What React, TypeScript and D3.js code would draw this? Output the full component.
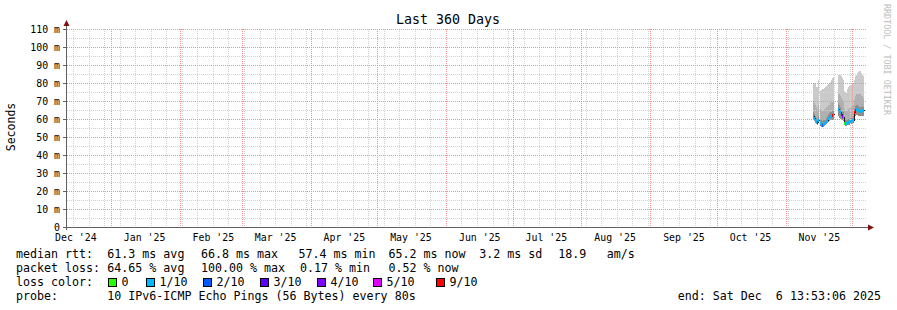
import React from "react";
import * as d3 from "d3";

// ---------- data ----------
const endTime = Date.UTC(2025, 11, 6, 13, 53, 6);
const spanDays = 360;
const titleText = "Last 360 Days";
const yAxisLabel = "Seconds";
const yTickValues = [0, 10, 20, 30, 40, 50, 60, 70, 80, 90, 100, 110];
const yTickLabels = ["0", "10 m", "20 m", "30 m", "40 m", "50 m", "60 m", "70 m", "80 m", "90 m", "100 m", "110 m"];
const xTickMonths = ["2024-12-01", "2025-01-01", "2025-02-01", "2025-03-01", "2025-04-01", "2025-05-01", "2025-06-01", "2025-07-01", "2025-08-01", "2025-09-01", "2025-10-01", "2025-11-01"];
const xTickLabels = ["Dec '24", "Jan '25", "Feb '25", "Mar '25", "Apr '25", "May '25", "Jun '25", "Jul '25", "Aug '25", "Sep '25", "Oct '25", "Nov '25"];

// samples (RRD consolidated step ~10.8h), starting at firstSample
const firstSample = Date.UTC(2025, 10, 13, 1, 0, 0);
const stepHours = 10.8;
const smokeMax =   [80.5, 80.5, 79.5, 78, 78, 82, null, 76, 76.5, 77, 77, 77.5, 78, 78.5, 79, 79.5, 80, 81, 82, 83, 83.5, null, null, null, null, 85, 85.5, 85, 84, 83, 82, 76, 75, 75, 77, 78, 78.5, 79, 79, 80, 80, 82, 84, 85, 86, 86.5, 87, 87, 86, 85, 84];
const smokeUpper = [70, 69, 68, 67, 66, 68, null, 66, 65, 65, 65.5, 66, 66, 67, 67, 68, 68, 69, 70, 70, 70, null, null, null, null, 74, 74, 73, 72, 71, 70, 66, 65, 65, 66, 66, 66.5, 67, 67, 68, 68, 71, 73, 74, 74, 74, 74, 74, 73, 73, 72];
const smokeDark =  [64, 63, 62, 61, 60.5, 62, null, 60, 59.5, 59, 59.5, 60, 60.5, 61, 62, 63, 63.5, 64, 64, 64.5, 65, null, null, null, null, 69, 68, 67, 66, 65, 64, 60, 59.5, 60, 60, 60.5, 60.5, 61, 61, 61.5, 62, 66, 67.5, 68, 68, 67.5, 67, 67, 67, 67.5, 67];
const median =     [62, 61, 60, 59, 58.5, 60, null, 58, 57.5, 57, 57.5, 58, 58.5, 59, 60, 61, 61.5, 62, 62, 62.5, 63, null, null, null, null, 66, 65, 64, 63, 62, 61.5, 58, 57.5, 58, 58, 58.5, 58.5, 59, 59, 59.5, 60, 64, 65.5, 66, 66, 65.5, 65, 65, 65, 65.5, 65.2];
const smokeMin =   [59.5, 59, 58, 57.5, 57, 58, null, 56.5, 56, 56, 56, 56.5, 57, 57.5, 58, 58.5, 59, 59.5, 60, 60, 60, null, null, null, null, 62, 61, 60.5, 60, 59.5, 59, 57, 56.5, 56.5, 57, 57, 57, 57.5, 57.5, 58, 58, 61, 62, 62.5, 62.5, 62, 62, 62, 62, 62, 62];
const lossPings =  [1, 1, 1, 1, 2, 1, null, 1, 1, 2, 1, 1, 1, 1, 1, 1, 1, 1, 1, 9, 1, null, null, null, null, 1, 1, 1, 3, 4, 1, 0, 1, 1, 1, 1, 1, 1, 1, 1, 1, 9, 9, 1, 1, 1, 1, 1, 1, 1, 1];

const lossLevels = [0, 1, 2, 3, 4, 5, 9];
const lossLabels = ["0", "1/10", "2/10", "3/10", "4/10", "5/10", "9/10"];
const lossColors = ["#26ff00", "#00b8ff", "#0059ff", "#5e00ff", "#7e00ff", "#dd00ff", "#ff0000"];

const legendMedianTitle = "median rtt:";
const legendMedianItems = ["61.3 ms avg", "66.8 ms max", "57.4 ms min", "65.2 ms now", "3.2 ms sd", "18.9", "am/s"];
const legendLossTitle = "packet loss:";
const legendLossItems = ["64.65 % avg", "100.00 % max", "0.17 % min", "0.52 % now"];
const legendColorTitle = "loss color:";
const legendProbeTitle = "probe:";
const legendProbeText = "10 IPv6-ICMP Echo Pings (56 Bytes) every 80s";
const legendEnd = "end: Sat Dec  6 13:53:06 2025";
const watermark = "RRDTOOL / TOBI OETIKER";

// ---------- component ----------
const MONO = "'DejaVu Sans Mono', monospace";

function lossColor(l: number) {
  let idx = 0;
  for (let i = 0; i < lossLevels.length; i++) {
    if (l >= lossLevels[i]) idx = i;
  }
  if (l > 5 && l < 9) idx = 6;
  return lossColors[idx];
}

export default function App() {
  const startTime = endTime - spanDays * 86400000;
  const x = d3.scaleUtc().domain([new Date(startTime), new Date(endTime)]).range([66, 865]);
  const y = d3.scaleLinear().domain([0, 110]).range([227.5, 29.5]);
  const px = (t: Date) => Math.floor(x(t)) + 0.5;

  const weeks = d3.utcSunday.range(new Date(startTime), new Date(endTime));
  const months = d3.utcMonth.range(new Date(startTime), new Date(endTime));
  const monthKeys = new Set(months.map((m) => Math.floor(x(m))));
  const weeksOnly = weeks.filter((w) => !monthKeys.has(Math.floor(x(w))));
  const minorY = d3.range(5, 111, 10);
  const majorY = d3.range(10, 111, 10);

  const stepMs = stepHours * 3600000;
  const cols = smokeMax.map((mx, i) => {
    const t0 = firstSample + i * stepMs;
    const x0 = Math.round(x(new Date(t0)));
    const x1 = Math.round(x(new Date(t0 + stepMs)));
    return { i, mx, x0, x1 };
  }).filter((c) => c.mx != null);

  const rect = (x0: number, x1: number, v0: number, v1: number, fill: string, key: string) => {
    const ya = Math.round(y(v1)), yb = Math.round(y(v0));
    return <rect key={key} x={x0} y={ya} width={Math.max(1, x1 - x0)} height={Math.max(0, yb - ya)} fill={fill} />;
  };

  // median black line (step)
  const segs: string[] = [];
  let cur: string[] = [];
  smokeMax.forEach((mx, i) => {
    if (mx == null) {
      if (cur.length) segs.push(cur.join(""));
      cur = [];
      return;
    }
    const t0 = firstSample + i * stepMs;
    const x0 = Math.round(x(new Date(t0))) + 0.5;
    const x1 = Math.round(x(new Date(t0 + stepMs))) + 0.5;
    const yy = Math.round(y(median[i] as number)) + 0.5;
    cur.push(`${cur.length ? "L" : "M"}${x0},${yy}L${x1},${yy}`);
  });
  if (cur.length) segs.push(cur.join(""));

  // legend layout (x positions in pixels)
  const colX = [107.3, 201, 298.5, 388.5, 479.3, 558.3, 606.7];
  const lossColX = [107.3, 201, 300, 388.5];
  const boxX = [108, 146, 203, 260, 317, 373, 436];

  const minorCol = "#d2d2d2";
  const majorCol = "#f49090";

  return (
    <svg width={897} height={310} style={{ position: "absolute", left: 0, top: 0, background: "#fff" }} xmlns="http://www.w3.org/2000/svg">
      <rect x={0} y={0} width={897} height={310} fill="#ffffff" />
      <text x={448} y={24} fontFamily={MONO} fontSize={13.3} textAnchor="middle" fill="#000">{titleText}</text>
      <text transform="translate(15,127) rotate(-90)" fontFamily={MONO} fontSize={11.5} textAnchor="middle" fill="#000">{yAxisLabel}</text>
      <text transform="translate(884,4) rotate(90)" fontFamily={MONO} fontSize={8.4} fill="#bdbdbd" textAnchor="start">{watermark}</text>

      {/* smoke */}
      <g shapeRendering="crispEdges">
        {cols.map((c) => rect(c.x0, c.x1, smokeMin[c.i] as number, c.mx as number, "#cacaca", "a" + c.i))}
        {cols.map((c) => rect(c.x0, c.x1, smokeMin[c.i] as number, smokeUpper[c.i] as number, "#b0b0b0", "b" + c.i))}
        {cols.map((c) => rect(c.x0, c.x1, smokeMin[c.i] as number, smokeDark[c.i] as number, "#8e8e8e", "c" + c.i))}
      </g>

      {/* grid */}
      <g shapeRendering="crispEdges" strokeWidth={1}>
        {minorY.map((v) => <path key={"hy" + v} d={`M67,${y(v)}H866`} stroke={minorCol} strokeDasharray="1 1" />)}
        {weeksOnly.map((w) => <path key={"vw" + +w} d={`M${px(w)},${y(0)}V${y(110) - 1}`} stroke={minorCol} strokeDasharray="1 1" />)}
        {majorY.map((v) => <path key={"my" + v} d={`M67,${y(v)}H866`} stroke={majorCol} strokeDasharray="1 1" />)}
        {months.map((m) => <path key={"vm" + +m} d={`M${px(m)},${y(0)}V${y(110) - 1}`} stroke={majorCol} strokeDasharray="1 1" />)}
      </g>

      {/* median */}
      <g>
        {segs.map((d, i) => <path key={i} d={d} fill="none" stroke="#202020" strokeWidth={1} shapeRendering="crispEdges" />)}
        {cols.map((c) => {
          const yy = Math.round(y(median[c.i] as number));
          return <rect key={"m" + c.i} x={c.x0} y={yy - 1} width={Math.max(1, c.x1 - c.x0)} height={3} fill={lossColor(lossPings[c.i] as number)} shapeRendering="crispEdges" />;
        })}
      </g>

      {/* axes */}
      <g shapeRendering="crispEdges">
        <line x1={66.5} x2={66.5} y1={230} y2={24} stroke="#606060" />
        <line x1={63} x2={869} y1={227.5} y2={227.5} stroke="#606060" />
        {yTickValues.map((v) => <line key={"t" + v} x1={63} x2={66} y1={y(v)} y2={y(v)} stroke="#606060" />)}
      </g>
      <path d="M63.5,26 L66.5,20 L69.5,26 Z" fill="#7f1010" />
      <path d="M868,224.5 L874,227.5 L868,230.5 Z" fill="#7f1010" />

      {yTickValues.map((v, i) => (
        <text key={"yl" + v} x={60} y={y(v) + 3.5} fontFamily={MONO} fontSize={9.9} textAnchor="end" fill="#000">{yTickLabels[i]}</text>
      ))}
      {xTickMonths.map((m, i) => {
        const t = Date.parse(m + "T00:00:00Z") + 15 * 86400000;
        return <text key={"xl" + m} x={x(new Date(t))} y={241} fontFamily={MONO} fontSize={9.9} textAnchor="middle" fill="#000">{xTickLabels[i]}</text>;
      })}

      {/* legend */}
      <g fontFamily={MONO} fontSize={11.65} fill="#000">
        <text x={16} y={258}>{legendMedianTitle}</text>
        {legendMedianItems.map((s, i) => <text key={"lm" + i} x={colX[i]} y={258}>{s}</text>)}
        <text x={16} y={272}>{legendLossTitle}</text>
        {legendLossItems.map((s, i) => <text key={"ll" + i} x={lossColX[i]} y={272}>{s}</text>)}
        <text x={16} y={286}>{legendColorTitle}</text>
        {lossLabels.map((lab, i) => (
          <g key={"lg" + i}>
            <rect x={boxX[i] + 0.5} y={278} width={8} height={8} fill={lossColors[i]} stroke="#000" strokeWidth={1} shapeRendering="crispEdges" />
            <text x={boxX[i] + 13.5} y={286}>{lab}</text>
          </g>
        ))}
        <text x={16} y={300}>{legendProbeTitle}</text>
        <text x={107.3} y={300}>{legendProbeText}</text>
        <text x={881} y={300} textAnchor="end" xmlSpace="preserve" style={{ whiteSpace: "pre" }}>{legendEnd}</text>
      </g>
    </svg>
  );
}
